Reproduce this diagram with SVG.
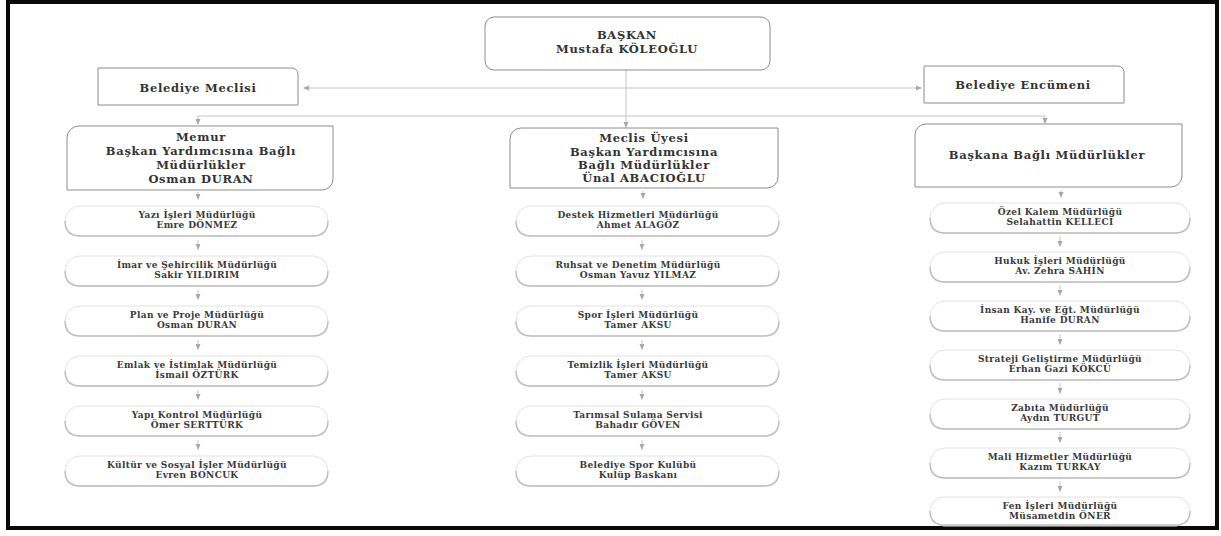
<svg xmlns="http://www.w3.org/2000/svg" width="1221" height="536" viewBox="0 0 1221 536">
<style>
.frame{fill:none;stroke:#0a0a0a;stroke-width:4}
.box{fill:#fff;stroke:#8c8c8c;stroke-width:1}
.item{fill:#fff;stroke:#e2e2e2;stroke-width:1}
.shadow{fill:none;stroke:#bdbdbd;stroke-width:1.3}
.ln{fill:none;stroke:#c4c4c4;stroke-width:1}
.t{font-family:"DejaVu Serif","Liberation Serif",serif;font-weight:bold;font-size:11.5px;letter-spacing:0.7px;fill:#333;text-anchor:middle}
.s{font-family:"DejaVu Serif","Liberation Serif",serif;font-weight:bold;font-size:9px;letter-spacing:0.35px;fill:#3a3a3a;text-anchor:middle}
</style>
<defs>
<marker id="ah" viewBox="0 0 6 6" refX="5" refY="3" markerWidth="6" markerHeight="6" markerUnits="userSpaceOnUse" orient="auto-start-reverse">
<path d="M0,0.5 L6,3 L0,5.5 Z" fill="#a8a8a8"/>
</marker>
</defs>
<rect width="1221" height="536" fill="#fff"/>
<rect class="frame" x="8" y="2" width="1209" height="526"/>

<g id="connectors">
<line class="ln" x1="304" y1="88" x2="921" y2="88" marker-start="url(#ah)" marker-end="url(#ah)"/>
<line class="ln" x1="626" y1="70" x2="626" y2="127" marker-end="url(#ah)"/>
<polyline class="ln" points="198,124 198,116 1045,116 1045,123" marker-start="url(#ah)" marker-end="url(#ah)"/>
<line class="ln" x1="198" y1="192" x2="198" y2="199" marker-end="url(#ah)"/>
<line class="ln" x1="643" y1="191" x2="643" y2="198" marker-end="url(#ah)"/>
<line class="ln" x1="1061" y1="190" x2="1061" y2="197" marker-end="url(#ah)"/>
<line class="ln" x1="198" y1="240" x2="198" y2="249" marker-end="url(#ah)"/>
<line class="ln" x1="198" y1="290" x2="198" y2="299" marker-end="url(#ah)"/>
<line class="ln" x1="198" y1="340" x2="198" y2="349" marker-end="url(#ah)"/>
<line class="ln" x1="198" y1="390" x2="198" y2="399" marker-end="url(#ah)"/>
<line class="ln" x1="198" y1="440" x2="198" y2="449" marker-end="url(#ah)"/>
<line class="ln" x1="642" y1="240" x2="642" y2="249" marker-end="url(#ah)"/>
<line class="ln" x1="642" y1="290" x2="642" y2="299" marker-end="url(#ah)"/>
<line class="ln" x1="642" y1="340" x2="642" y2="349" marker-end="url(#ah)"/>
<line class="ln" x1="642" y1="390" x2="642" y2="399" marker-end="url(#ah)"/>
<line class="ln" x1="642" y1="440" x2="642" y2="449" marker-end="url(#ah)"/>
<line class="ln" x1="1060" y1="236" x2="1060" y2="246" marker-end="url(#ah)"/>
<line class="ln" x1="1060" y1="285" x2="1060" y2="295" marker-end="url(#ah)"/>
<line class="ln" x1="1060" y1="334" x2="1060" y2="344" marker-end="url(#ah)"/>
<line class="ln" x1="1060" y1="383" x2="1060" y2="393" marker-end="url(#ah)"/>
<line class="ln" x1="1060" y1="432" x2="1060" y2="442" marker-end="url(#ah)"/>
<line class="ln" x1="1060" y1="481" x2="1060" y2="491" marker-end="url(#ah)"/>
</g>

<g id="baskan">
<rect class="box" x="485" y="17" width="285" height="53" rx="9"/>
<text class="t" x="627" y="39">BAŞKAN</text>
<text class="t" x="627" y="53">Mustafa KÖLEOĞLU</text>
</g>
<g id="meclis">
<path class="box" d="M98,68 H292 A6,6 0 0 1 298,74 V105 H98 Z"/>
<text class="t" x="198" y="92">Belediye Meclisi</text>
</g>
<g id="encumen">
<path class="box" d="M924,66 H1118 A6,6 0 0 1 1124,72 V103 H924 Z"/>
<text class="t" x="1023" y="89">Belediye Encümeni</text>
</g>

<g id="memur">
<path class="box" d="M79,126 H333 V179 A11,11 0 0 1 322,190 H67 V138 A12,12 0 0 1 79,126 Z"/>
<text class="t" x="201" y="141">Memur</text>
<text class="t" x="201" y="155">Başkan Yardımcısına Bağlı</text>
<text class="t" x="201" y="169">Müdürlükler</text>
<text class="t" x="201" y="183">Osman DURAN</text>
</g>
<g id="meclisuye">
<path class="box" d="M521,128 H778 V177 A11,11 0 0 1 767,188 H510 V139 A11,11 0 0 1 521,128 Z"/>
<text class="t" x="644" y="142">Meclis Üyesi</text>
<text class="t" x="644" y="156">Başkan Yardımcısına</text>
<text class="t" x="644" y="169">Bağlı Müdürlükler</text>
<text class="t" x="644" y="182">Ünal ABACIOĞLU</text>
</g>
<g id="baskanabagli">
<path class="box" d="M926,124 H1182 V176 A11,11 0 0 1 1171,187 H915 V135 A11,11 0 0 1 926,124 Z"/>
<text class="t" x="1047" y="159">Başkana Bağlı Müdürlükler</text>
</g>

<!-- Left column -->
<g id="l1"><rect class="item" x="65" y="206" width="263" height="30" rx="15"/><path class="shadow" d="M65,221 Q65,236 80,236 H313 Q328,236 328,221"/><text class="s" x="197" y="218">Yazı İşleri Müdürlüğü</text><text class="s" x="197" y="227.5">Emre DÖNMEZ</text></g>
<g id="l2"><rect class="item" x="65" y="256" width="263" height="30" rx="15"/><path class="shadow" d="M65,271 Q65,286 80,286 H313 Q328,286 328,271"/><text class="s" x="197" y="268">İmar ve Şehircilik Müdürlüğü</text><text class="s" x="197" y="277.5">Sakir YILDIRIM</text></g>
<g id="l3"><rect class="item" x="65" y="306" width="263" height="30" rx="15"/><path class="shadow" d="M65,321 Q65,336 80,336 H313 Q328,336 328,321"/><text class="s" x="197" y="318">Plan ve Proje Müdürlüğü</text><text class="s" x="197" y="327.5">Osman DURAN</text></g>
<g id="l4"><rect class="item" x="65" y="356" width="263" height="30" rx="15"/><path class="shadow" d="M65,371 Q65,386 80,386 H313 Q328,386 328,371"/><text class="s" x="197" y="368">Emlak ve İstimlak Müdürlüğü</text><text class="s" x="197" y="377.5">İsmail ÖZTÜRK</text></g>
<g id="l5"><rect class="item" x="65" y="406" width="263" height="30" rx="15"/><path class="shadow" d="M65,421 Q65,436 80,436 H313 Q328,436 328,421"/><text class="s" x="197" y="418">Yapı Kontrol Müdürlüğü</text><text class="s" x="197" y="427.5">Ömer SERTTÜRK</text></g>
<g id="l6"><rect class="item" x="65" y="456" width="263" height="30" rx="15"/><path class="shadow" d="M65,471 Q65,486 80,486 H313 Q328,486 328,471"/><text class="s" x="197" y="468">Kültür ve Sosyal  İşler Müdürlüğü</text><text class="s" x="197" y="477.5">Evren BONCUK</text></g>

<!-- Center column -->
<g id="c1"><rect class="item" x="516" y="206" width="263" height="30" rx="15"/><path class="shadow" d="M516,221 Q516,236 531,236 H764 Q779,236 779,221"/><text class="s" x="638" y="218">Destek Hizmetleri Müdürlüğü</text><text class="s" x="638" y="227.5">Ahmet ALAGÖZ</text></g>
<g id="c2"><rect class="item" x="516" y="256" width="263" height="30" rx="15"/><path class="shadow" d="M516,271 Q516,286 531,286 H764 Q779,286 779,271"/><text class="s" x="638" y="268">Ruhsat ve Denetim Müdürlüğü</text><text class="s" x="638" y="277.5">Osman Yavuz YILMAZ</text></g>
<g id="c3"><rect class="item" x="516" y="306" width="263" height="30" rx="15"/><path class="shadow" d="M516,321 Q516,336 531,336 H764 Q779,336 779,321"/><text class="s" x="638" y="318">Spor İşleri Müdürlüğü</text><text class="s" x="638" y="327.5">Tamer AKSU</text></g>
<g id="c4"><rect class="item" x="516" y="356" width="263" height="30" rx="15"/><path class="shadow" d="M516,371 Q516,386 531,386 H764 Q779,386 779,371"/><text class="s" x="638" y="368">Temizlik İşleri Müdürlüğü</text><text class="s" x="638" y="377.5">Tamer AKSU</text></g>
<g id="c5"><rect class="item" x="516" y="406" width="263" height="30" rx="15"/><path class="shadow" d="M516,421 Q516,436 531,436 H764 Q779,436 779,421"/><text class="s" x="638" y="418">Tarımsal Sulama Servisi</text><text class="s" x="638" y="427.5">Bahadır GÖVEN</text></g>
<g id="c6"><rect class="item" x="516" y="456" width="263" height="30" rx="15"/><path class="shadow" d="M516,471 Q516,486 531,486 H764 Q779,486 779,471"/><text class="s" x="638" y="468">Belediye Spor Kulübü</text><text class="s" x="638" y="477.5">Kulüp Baskanı</text></g>

<!-- Right column -->
<g id="r1"><rect class="item" x="930" y="203" width="260" height="30" rx="15"/><path class="shadow" d="M930,218 Q930,233 945,233 H1175 Q1190,233 1190,218"/><text class="s" x="1060" y="215">Özel Kalem Müdürlüğü</text><text class="s" x="1060" y="225">Selahattin KELLECİ</text></g>
<g id="r2"><rect class="item" x="930" y="252" width="260" height="30" rx="15"/><path class="shadow" d="M930,267 Q930,282 945,282 H1175 Q1190,282 1190,267"/><text class="s" x="1060" y="264">Hukuk İşleri Müdürlüğü</text><text class="s" x="1060" y="274">Av. Zehra SAHİN</text></g>
<g id="r3"><rect class="item" x="930" y="301" width="260" height="30" rx="15"/><path class="shadow" d="M930,316 Q930,331 945,331 H1175 Q1190,331 1190,316"/><text class="s" x="1060" y="313">İnsan Kay. ve Eğt. Müdürlüğü</text><text class="s" x="1060" y="323">Hanife DURAN</text></g>
<g id="r4"><rect class="item" x="930" y="350" width="260" height="30" rx="15"/><path class="shadow" d="M930,365 Q930,380 945,380 H1175 Q1190,380 1190,365"/><text class="s" x="1060" y="362">Strateji Geliştirme Müdürlüğü</text><text class="s" x="1060" y="372">Erhan Gazi KÖKCÜ</text></g>
<g id="r5"><rect class="item" x="930" y="399" width="260" height="30" rx="15"/><path class="shadow" d="M930,414 Q930,429 945,429 H1175 Q1190,429 1190,414"/><text class="s" x="1060" y="411">Zabıta Müdürlüğü</text><text class="s" x="1060" y="421">Aydın TURGUT</text></g>
<g id="r6"><rect class="item" x="930" y="448" width="260" height="30" rx="15"/><path class="shadow" d="M930,463 Q930,478 945,478 H1175 Q1190,478 1190,463"/><text class="s" x="1060" y="460">Mali Hizmetler Müdürlüğü</text><text class="s" x="1060" y="470">Kazım TURKAY</text></g>
<g id="r7"><rect class="item" x="930" y="497" width="260" height="29" rx="14"/><path class="shadow" d="M930,511 Q930,525 945,525 H1175 Q1190,525 1190,511"/><text class="s" x="1060" y="509">Fen İşleri Müdürlüğü</text><text class="s" x="1060" y="519">Müsametdin ÖNER</text></g>
</svg>
